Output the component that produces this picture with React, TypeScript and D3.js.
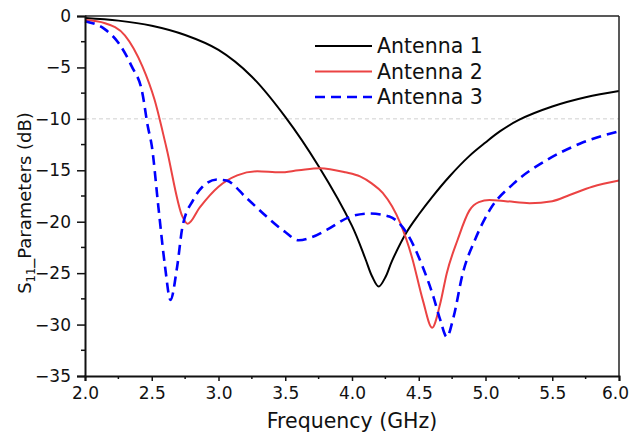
import { useEffect, useRef } from "react";
import * as d3 from "d3";

// values (frequency in GHz, S11 in dB)
const freq1 = [2.0, 2.25, 2.5, 2.75, 3.0, 3.25, 3.5, 3.75, 4.0, 4.1, 4.15, 4.2, 4.25, 4.3, 4.41, 4.5, 4.6, 4.73, 4.88, 5.0, 5.11, 5.25, 5.5, 5.75, 6.0];
const s11Ant1 = [-0.2, -0.45, -0.95, -1.85, -3.3, -5.9, -9.8, -14.6, -20.4, -23.6, -25.3, -26.3, -25.4, -23.8, -21.0, -19.3, -17.6, -15.6, -13.6, -12.3, -11.2, -10.1, -8.8, -7.9, -7.3];

const freq2 = [2.0, 2.15, 2.3, 2.43, 2.52, 2.61, 2.73, 2.77, 2.86, 3.0, 3.14, 3.29, 3.46, 3.6, 3.76, 3.95, 4.06, 4.15, 4.23, 4.36, 4.45, 4.53, 4.6, 4.66, 4.71, 4.79, 4.88, 4.95, 5.03, 5.15, 5.33, 5.5, 5.63, 5.8, 6.0];
const s11Ant2 = [-0.4, -0.7, -1.9, -4.9, -8.1, -12.8, -19.5, -20.2, -18.6, -16.6, -15.5, -15.1, -15.2, -15.0, -14.8, -15.2, -15.6, -16.3, -17.2, -20.1, -23.5, -27.6, -30.3, -28.0, -25.0, -21.8, -18.9, -18.1, -17.9, -18.0, -18.2, -18.0, -17.4, -16.6, -16.0];

const freq3 = [2.0, 2.15, 2.25, 2.35, 2.43, 2.47, 2.5, 2.55, 2.6, 2.64, 2.69, 2.73, 2.81, 2.88, 2.99, 3.06, 3.21, 3.36, 3.5, 3.6, 3.7, 3.81, 3.99, 4.13, 4.28, 4.41, 4.53, 4.61, 4.66, 4.71, 4.76, 4.83, 4.92, 5.03, 5.21, 5.46, 5.71, 6.0];
const s11Ant3 = [-0.5, -1.3, -2.6, -4.9, -7.5, -10.7, -12.6, -18.6, -24.4, -27.6, -24.4, -20.5, -17.9, -16.6, -15.9, -16.0, -17.7, -19.5, -21.0, -21.8, -21.5, -20.8, -19.5, -19.2, -19.5, -21.1, -24.4, -27.3, -29.5, -31.2, -29.3, -25.0, -21.8, -18.9, -16.3, -14.0, -12.4, -11.2];

const seriesNames = ["Antenna 1", "Antenna 2", "Antenna 3"];
const xTicks = [2.0, 2.5, 3.0, 3.5, 4.0, 4.5, 5.0, 5.5, 6.0];
const yTicks = [0, -5, -10, -15, -20, -25, -30, -35];

type Pt = { f: number; v: number };

export default function App() {
  const svgRef = useRef<SVGSVGElement>(null);

  useEffect(() => {
    if (!svgRef.current) return;
    const svg = d3.select(svgRef.current);
    svg.selectAll("*").remove();

    const left = 85, right = 619, top = 16, bottom = 376;
    const font = "'DejaVu Sans', sans-serif";

    const x = d3.scaleLinear().domain([2, 6]).range([left, right]);
    const y = d3.scaleLinear().domain([-35, 0]).range([bottom, top]);

    // -10 dB reference line
    svg.append("line")
      .attr("x1", left).attr("x2", right)
      .attr("y1", y(-10)).attr("y2", y(-10))
      .attr("stroke", "#d0d0d0").attr("stroke-width", 1)
      .attr("stroke-dasharray", "4,3");

    const series = [
      { name: seriesNames[0], pts: freq1.map((f, i) => ({ f, v: s11Ant1[i] })), color: "#000000", width: 2, dash: null as string | null, curve: d3.curveCatmullRom.alpha(0.5) as d3.CurveFactory },
      { name: seriesNames[1], pts: freq2.map((f, i) => ({ f, v: s11Ant2[i] })), color: "#eb4343", width: 2, dash: null, curve: d3.curveMonotoneX },
      { name: seriesNames[2], pts: freq3.map((f, i) => ({ f, v: s11Ant3[i] })), color: "#0000ff", width: 2.6, dash: "10,6", curve: d3.curveMonotoneX },
    ];

    const plot = svg.append("g");
    series.forEach(s => {
      const line = d3.line<Pt>()
        .x(d => x(d.f))
        .y(d => y(d.v))
        .curve(s.curve);
      plot.append("path")
        .attr("d", line(s.pts))
        .attr("fill", "none")
        .attr("stroke", s.color)
        .attr("stroke-width", s.width)
        .attr("stroke-dasharray", s.dash);
    });

    // frame: top and right
    svg.append("line").attr("x1", left).attr("x2", right).attr("y1", top).attr("y2", top)
      .attr("stroke", "#222").attr("stroke-width", 1.5);
    svg.append("line").attr("x1", right).attr("x2", right).attr("y1", top).attr("y2", bottom)
      .attr("stroke", "#222").attr("stroke-width", 1.5);

    // bottom axis
    const xMinor = d3.range(2.25, 6, 0.5);
    const gx = svg.append("g").attr("transform", `translate(0,${bottom})`)
      .call(d3.axisBottom(x).tickValues(xTicks).tickFormat(d3.format(".1f")).tickSizeOuter(0).tickSize(5).tickPadding(6));
    gx.selectAll("path.domain").attr("stroke", "#111").attr("stroke-width", 2);
    gx.selectAll("line").attr("stroke", "#111").attr("stroke-width", 1.5);
    gx.selectAll("text").attr("font-family", font).attr("font-size", 17).attr("fill", "#111")
      .attr("dx", (d: any) => (d === 6 ? -4 : 0));
    gx.append("g").selectAll("line").data(xMinor).enter().append("line")
      .attr("x1", d => x(d)).attr("x2", d => x(d)).attr("y1", 0).attr("y2", 3)
      .attr("stroke", "#111").attr("stroke-width", 1.5);

    // left axis
    const yMinor = d3.range(-2.5, -35, -5);
    const gy = svg.append("g").attr("transform", `translate(${left},0)`)
      .call(d3.axisLeft(y).tickValues(yTicks).tickFormat(d3.format("d")).tickSizeOuter(0).tickSize(8).tickPadding(6));
    gy.selectAll("path.domain").attr("stroke", "#111").attr("stroke-width", 2);
    gy.selectAll("line").attr("stroke", "#111").attr("stroke-width", 1.5);
    gy.selectAll("text").attr("font-family", font).attr("font-size", 17).attr("fill", "#111");
    gy.append("g").selectAll("line").data(yMinor).enter().append("line")
      .attr("x1", -4).attr("x2", 0).attr("y1", d => y(d)).attr("y2", d => y(d))
      .attr("stroke", "#111").attr("stroke-width", 1.5);

    // axis titles
    svg.append("text")
      .attr("x", (left + right) / 2).attr("y", 428)
      .attr("text-anchor", "middle")
      .attr("font-family", font).attr("font-size", 20.5).attr("fill", "#111")
      .text("Frequency (GHz)");

    const yl = svg.append("text")
      .attr("transform", `translate(31,203) rotate(-90)`)
      .attr("text-anchor", "middle")
      .attr("font-family", font).attr("font-size", 18).attr("fill", "#111");
    yl.append("tspan").text("S");
    yl.append("tspan").attr("font-size", 11.5).attr("dy", 4).text("11");
    yl.append("tspan").attr("dy", -4).text("_Parameters (dB)");

    // legend
    const legend = svg.append("g");
    series.forEach((s, i) => {
      const ly = 46 + i * 25.5;
      legend.append("line")
        .attr("x1", 315).attr("x2", 372).attr("y1", ly).attr("y2", ly)
        .attr("stroke", s.color).attr("stroke-width", s.width)
        .attr("stroke-dasharray", s.dash);
      legend.append("text")
        .attr("x", 377).attr("y", ly)
        .attr("dy", "0.36em")
        .attr("font-family", font).attr("font-size", 20.5).attr("fill", "#111")
        .text(s.name);
    });
  }, []);

  return (
    <svg ref={svgRef} width={630} height={435}
      style={{ position: "absolute", left: 0, top: 0, background: "#fff" }} />
  );
}
